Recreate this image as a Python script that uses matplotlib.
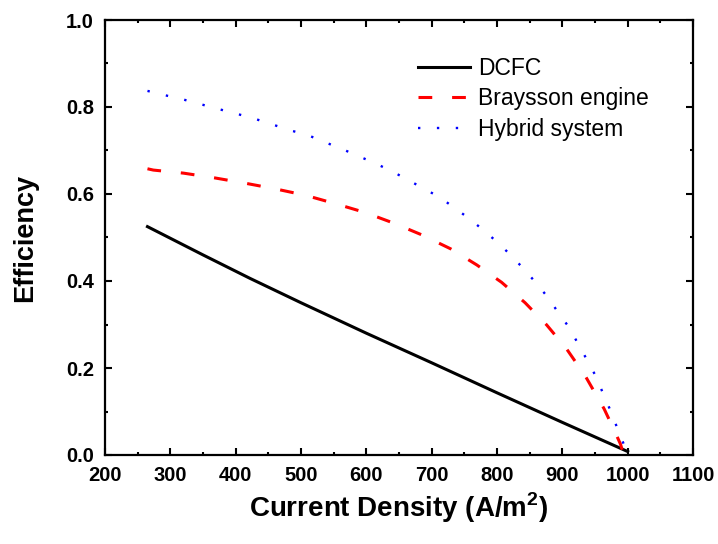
import numpy as np
from matplotlib import pyplot as plt

# values
x_dcfc = [265, 350, 422, 500, 600, 700, 800, 900, 1000]
y_dcfc = [0.525, 0.460, 0.406, 0.350, 0.280, 0.212, 0.143, 0.075, 0.008]

x_bray = [265, 274, 320, 368, 414, 460, 507, 552, 597, 642, 685, 729, 769, 807,
          843, 876, 906, 935, 964, 980, 989, 993]
y_bray = [0.658, 0.655, 0.648, 0.637, 0.625, 0.612, 0.597, 0.578, 0.558, 0.533,
          0.506, 0.474, 0.437, 0.397, 0.350, 0.299, 0.245, 0.182, 0.106, 0.055,
          0.025, 0.005]

x_hyb = [265, 292, 318, 345, 372, 400, 427, 454, 482, 511, 535, 562, 588, 613,
         638, 662, 687, 712, 734, 758, 779, 800, 820, 839, 859, 877, 894, 910,
         924, 938, 952, 963, 976, 986, 997, 1000]
y_hyb = [0.837, 0.827, 0.818, 0.807, 0.796, 0.785, 0.774, 0.761, 0.747, 0.735,
         0.720, 0.704, 0.687, 0.671, 0.653, 0.634, 0.613, 0.593, 0.569, 0.543,
         0.517, 0.490, 0.461, 0.431, 0.397, 0.364, 0.327, 0.294, 0.256, 0.218,
         0.179, 0.139, 0.094, 0.054, 0.014, 0.005]

plt.rcParams['font.family'] = ['Liberation Sans', 'DejaVu Sans']
plt.rcParams['mathtext.fontset'] = 'custom'
plt.rcParams['mathtext.rm'] = 'Liberation Sans:bold'
plt.rcParams['mathtext.bf'] = 'Liberation Sans:bold'

fig = plt.figure(figsize=(7.18, 5.44), dpi=100)
ax = fig.add_axes([105/718, 89/544, 588/718, 435/544])

ax.plot(x_dcfc, y_dcfc, color='black', lw=2.2, label='DCFC')
ax.plot(x_bray, y_bray, color='red', lw=2.2, dashes=(4.5, 6.5), label='Braysson engine')
ax.plot(x_hyb, y_hyb, color='blue', lw=1.7, dashes=(1, 7), label='Hybrid system')

ax.set_xlim(200, 1100)
ax.set_ylim(0, 1.0)
ax.set_xticks(np.arange(200, 1101, 100))
ax.set_xticks(np.arange(250, 1100, 100), minor=True)
ax.set_yticks(np.arange(0, 1.01, 0.2))
ax.set_yticks(np.arange(0.1, 1.0, 0.2), minor=True)
ax.set_yticklabels(['%.1f' % v for v in np.arange(0, 1.01, 0.2)])
ax.tick_params(which='both', direction='in', top=True, right=True, width=1.5)
ax.tick_params(which='major', length=5, labelsize=14.5, pad=8)
ax.tick_params(which='minor', length=2.5)
for lab in ax.get_xticklabels() + ax.get_yticklabels():
    lab.set_fontweight('bold')
for s in ax.spines.values():
    s.set_linewidth(1.6)

ax.set_xlabel(r'Current Density (A/m$^{\mathbf{2}}$)', fontsize=20, fontweight='bold', labelpad=4)
ax.set_ylabel('Efficiency', fontsize=19.5, fontweight='bold', labelpad=20)

ax.legend(loc='upper left', bbox_to_anchor=(0.532, 0.915), frameon=False, fontsize=16.5,
          handlelength=2.27, handletextpad=0.35, labelspacing=0.32, borderpad=0, borderaxespad=0)

plt.savefig('out.png', dpi=100)
